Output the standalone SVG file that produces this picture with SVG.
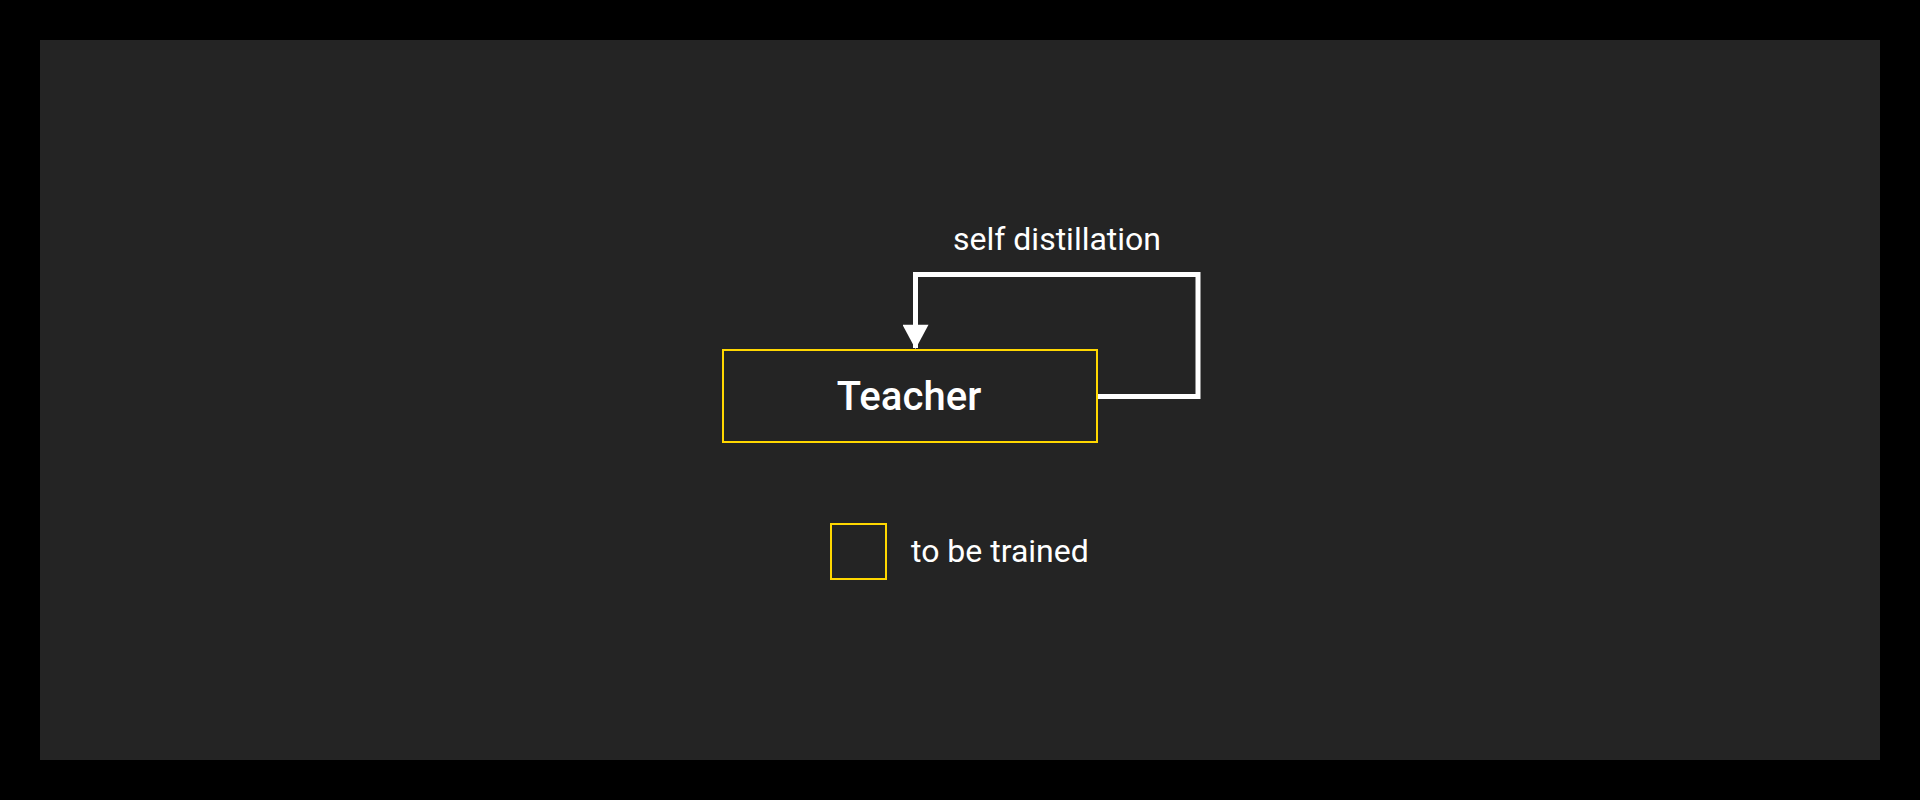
<svg xmlns="http://www.w3.org/2000/svg" width="1920" height="800" viewBox="0 0 1920 800">
<style>
.node{fill:#242424;stroke:#FFD700;stroke-width:2}
.lbl{font-family:Roboto,"Liberation Sans",sans-serif;fill:#ffffff}
.title{font-family:"Roboto Medium",Roboto,"Liberation Sans",sans-serif;font-weight:500;fill:#ffffff}
.conn{fill:none;stroke:#ffffff;stroke-width:5}
</style>
<defs>
<marker id="arr" markerUnits="userSpaceOnUse" markerWidth="28" markerHeight="26" refX="25" refY="14" orient="auto" viewBox="0 0 26 28">
<path d="M0,0 L26,14 L0,28 Z" fill="#ffffff"/>
</marker>
</defs>
<rect x="0" y="0" width="1920" height="800" fill="#000000"/>
<rect x="40" y="40" width="1840" height="720" fill="#242424"/>
<g id="teacher">
<rect class="node" x="723" y="350" width="374" height="92"/>
<text class="title" x="909" y="410" text-anchor="middle" font-size="40">Teacher</text>
</g>
<g id="connectors">
<path class="conn" d="M1098,396.5 H1198 V274.5 H915.5 V348" marker-end="url(#arr)"/>
<text class="lbl" x="1057" y="250" text-anchor="middle" font-size="32">self distillation</text>
</g>
<g id="legend">
<rect class="node" x="831" y="524" width="55" height="55"/>
<text class="lbl" x="911" y="562" font-size="32">to be trained</text>
</g>
</svg>
